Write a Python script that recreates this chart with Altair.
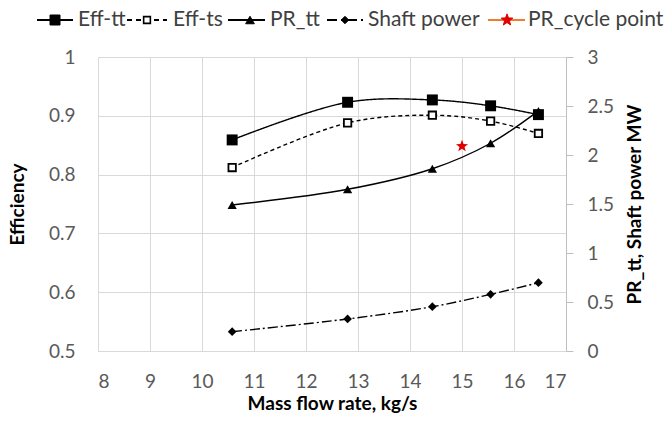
import math
import altair as alt
import pandas as pd

# ---------------- data ----------------
mass_flow = [10.58, 12.80, 14.43, 15.55, 16.47]
eff_tt = [0.859, 0.923, 0.927, 0.917, 0.902]
eff_ts = [0.812, 0.888, 0.901, 0.891, 0.870]
pr_tt = [1.49, 1.65, 1.86, 2.12, 2.45]
shaft_power = [0.197, 0.327, 0.452, 0.578, 0.697]
cycle_x = [15.0]
cycle_pr = [2.09]

x_ticks = [8, 9, 10, 11, 12, 13, 14, 15, 16, 17]
left_ticks = [0.5, 0.6, 0.7, 0.8, 0.9, 1.0]
right_ticks = [0, 0.5, 1, 1.5, 2, 2.5, 3]

legend_labels = ["Eff-tt", "Eff-ts", "PR_tt", "Shaft power", "PR_cycle point"]

# ---------------- styling ----------------
FONT = "Lato"
W, H = 468, 294
PAD = {"left": 98, "top": 57, "right": 101, "bottom": 74}
LABEL_C = "#595959"
GRID_C = "#d9d9d9"
LABEL_FS = 19
TITLE_FS = 19

df = pd.DataFrame({"m": mass_flow, "tt": eff_tt, "ts": eff_ts, "pr": pr_tt, "sp": shaft_power})
star_df = pd.DataFrame({"m": cycle_x, "pr": cycle_pr})

# star path in unit coordinates
pts = []
for k in range(10):
    r = 1.0 if k % 2 == 0 else 0.42
    a = math.radians(-90 + 36 * k)
    pts.append(f"{r*math.cos(a):.3f},{r*math.sin(a):.3f}")
STAR = "M" + "L".join(pts) + "Z"

x_enc = alt.X("m:Q", scale=alt.Scale(domain=[8, 17], nice=False),
              axis=alt.Axis(values=x_ticks, format="~g", title="Mass flow rate, kg/s",
                            grid=True, gridColor=GRID_C, domainColor=GRID_C, ticks=False, tickSize=0,
                            labelPadding=21, titlePadding=3))

left_scale = alt.Scale(domain=[0.5, 1.0], nice=False, zero=False)
right_scale = alt.Scale(domain=[0, 3], nice=False)

left_axis = alt.Axis(values=left_ticks, format="~g", title="Efficiency", grid=True, gridColor=GRID_C,
                     domain=False, ticks=False, tickSize=0, labelPadding=23, titlePadding=21)
right_axis = alt.Axis(values=right_ticks, format="~g", title="PR_tt, Shaft power MW", orient="right",
                      grid=False, domainColor="#bfbfbf", tickColor="#bfbfbf", tickSize=7,
                      labelPadding=14, titlePadding=31, titleAngle=270)

base = alt.Chart(df)


def series(field, dash, shape, size, filled, axis):
    scale = left_scale if axis == "left" else right_scale
    yaxis = left_axis if axis == "left" else None
    line = base.mark_line(color="black", strokeWidth=1.4, strokeDash=dash,
                          interpolate="catmull-rom").encode(
        x=x_enc, y=alt.Y(f"{field}:Q", scale=scale, axis=yaxis))
    pt = base.mark_point(shape=shape, size=size, filled=filled,
                         fill="black" if filled else "white", color="black",
                         strokeWidth=1.8 if not filled else 1, opacity=1).encode(
        x="m:Q", y=alt.Y(f"{field}:Q", scale=scale))
    return line + pt


left = alt.layer(
    series("tt", [1, 0], "square", 120, True, "left"),
    series("ts", [4, 3], "square", 55, False, "left"),
)

right_line_pr = base.mark_line(color="black", strokeWidth=1.4, interpolate="catmull-rom").encode(
    x="m:Q", y=alt.Y("pr:Q", scale=right_scale, axis=right_axis))
right_pt_pr = base.mark_point(shape="triangle-up", size=85, filled=True, color="black", opacity=1).encode(
    x="m:Q", y=alt.Y("pr:Q", scale=right_scale))
right_line_sp = base.mark_line(color="black", strokeWidth=1.4, strokeDash=[10, 3, 2, 3],
                               interpolate="catmull-rom").encode(
    x="m:Q", y=alt.Y("sp:Q", scale=right_scale))
right_pt_sp = base.mark_point(shape="diamond", size=75, filled=True, color="black", opacity=1).encode(
    x="m:Q", y=alt.Y("sp:Q", scale=right_scale))
star = alt.Chart(star_df).mark_point(shape=STAR, size=160, filled=True, color="#e00000", opacity=1).encode(
    x="m:Q", y=alt.Y("pr:Q", scale=right_scale))

right = alt.layer(right_line_pr, right_pt_pr, right_line_sp, right_pt_sp, star)

# ---------------- manual legend ----------------
LEG_Y = 20 - PAD["top"]
leg_line_x = [(37, 73), (127, 167), (228, 265), (327, 363), (488, 525)]
leg_mark_x = [55, 147, 250, 345, 507]
leg_text_x = [78, 173, 270, 368, 528]
leg_dash = [[1, 0], [5, 4], [1, 0], [10, 4, 2, 4], [1, 0]]
leg_line_col = ["black", "black", "black", "black", "#ed7d31"]
leg_shape = ["square", "square", "triangle-up", "diamond", STAR]
leg_size = [100, 45, 75, 55, 150]
leg_fill = ["black", "white", "black", "black", "#e00000"]
leg_stroke = ["black", "black", "black", "black", "#e00000"]

one = alt.Data(values=[{"a": 1}])
legend_layers = []
for i, lab in enumerate(legend_labels):
    x0, x1 = leg_line_x[i]
    legend_layers.append(alt.Chart(one).mark_rule(color=leg_line_col[i], strokeWidth=1.8,
                                                  strokeDash=leg_dash[i]).encode(
        x=alt.value(x0 - PAD["left"]), x2=alt.value(x1 - PAD["left"]), y=alt.value(LEG_Y)))
    legend_layers.append(alt.Chart(one).mark_point(shape=leg_shape[i], size=leg_size[i], filled=True,
                                                   fill=leg_fill[i], stroke=leg_stroke[i],
                                                   strokeWidth=1.6 if i == 1 else 1, opacity=1).encode(
        x=alt.value(leg_mark_x[i] - PAD["left"]), y=alt.value(LEG_Y)))
    legend_layers.append(alt.Chart(one).mark_text(align="left", baseline="middle", font=FONT,
                                                  fontSize=21, color="#404040").encode(
        x=alt.value(leg_text_x[i] - PAD["left"]), y=alt.value(LEG_Y), text=alt.value(lab)))

legend = alt.layer(*legend_layers)

chart = alt.layer(left, right, legend).resolve_scale(y="independent").properties(
    width=W, height=H, padding=PAD, autosize=alt.AutoSizeParams(type="none"),
    background="white"
).configure_view(stroke=None).configure_axis(
    labelFont=FONT, labelFontSize=LABEL_FS, labelColor=LABEL_C,
    titleFont=FONT, titleFontSize=TITLE_FS, titleFontWeight="bold", titleColor="#000000"
)

chart.save("out.html", embed_options={"renderer": "svg", "actions": False})
